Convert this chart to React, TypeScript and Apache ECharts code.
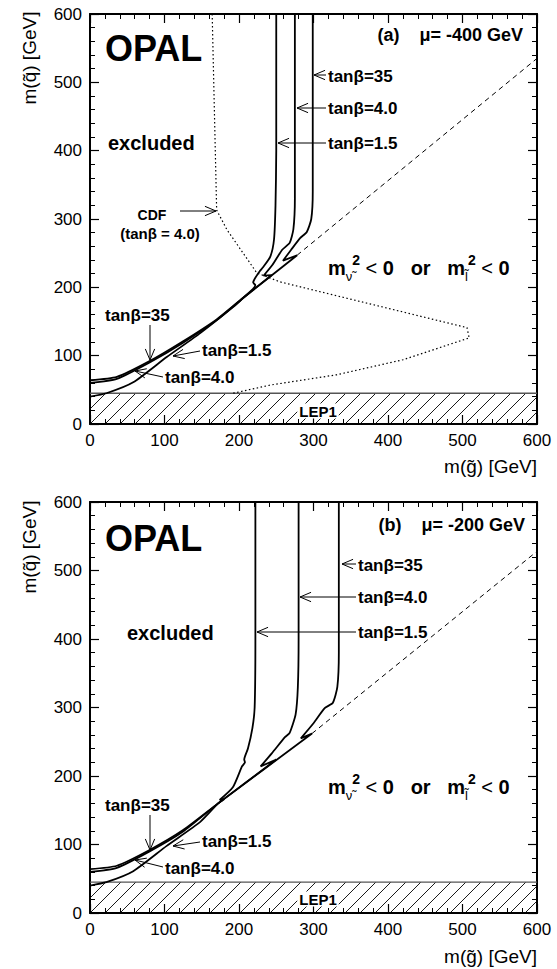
import React, { useEffect, useRef } from "react";
import * as echarts from "echarts";

// ---------- data (GeV) ----------
const axisTicks = [0, 100, 200, 300, 400, 500, 600];
const lep1Limit = 45;

// panel (a): mu = -400 GeV
const a_tb15 = [[0, 40], [22, 45], [58, 61], [103, 98], [148, 133], [192, 171], [205, 184], [222, 203], [219, 207], [228, 224], [232, 229], [242, 245], [247, 270], [249, 320], [250, 400], [250, 600]];
const a_tb40 = [[0, 60], [36, 66], [80, 90], [125, 119], [170, 152], [205, 184], [244, 218], [233, 217], [245, 233], [258, 255], [268, 265], [273, 285], [275, 330], [275, 600]];
const a_tb35 = [[0, 64], [36, 69], [80, 92], [125, 121], [170, 153], [205, 184], [278, 247], [259, 239], [270, 255], [282, 272], [291, 281], [297, 300], [299, 340], [299, 600]];
const a_cdf = [[164, 600], [170, 313], [184, 284], [224, 221], [255, 208], [506, 141], [509, 126], [420, 94], [331, 72], [242, 57], [192, 45]];
const a_diag = [[278, 247], [600, 535]];

// panel (b): mu = -200 GeV
const b_tb15 = [[0, 40], [22, 45], [58, 61], [103, 98], [148, 133], [172, 160], [180, 166], [174, 165], [192, 184], [204, 214], [208, 220], [207, 224], [212, 240], [218, 270], [221, 300], [222, 400], [222, 600]];
const b_tb40 = [[0, 60], [36, 66], [80, 90], [125, 119], [172, 160], [250, 224], [229, 214], [244, 233], [262, 257], [268, 263], [276, 290], [279, 330], [280, 400], [280, 600]];
const b_tb35 = [[0, 64], [36, 69], [80, 92], [125, 121], [172, 160], [298, 262], [283, 255], [300, 277], [315, 299], [326, 307], [332, 330], [334, 380], [334, 600]];
const b_diag = [[298, 262], [600, 528]];

const FONT = '"Liberation Sans", Arial, Helvetica, sans-serif';

function txt(text: string, x: number, y: number, size: number, align = "left", weight = "bold", extra: any = {}) {
  return {
    type: "text",
    x,
    y,
    z: 50,
    style: { text, fill: "#000", fontSize: size, fontWeight: weight, fontFamily: FONT, align, verticalAlign: "middle", ...extra },
  };
}

function arrow(x1: number, y1: number, x2: number, y2: number, head = 12) {
  const a = Math.atan2(y2 - y1, x2 - x1);
  const w = 0.4;
  const p1 = [x2 - head * Math.cos(a - w), y2 - head * Math.sin(a - w)];
  const p2 = [x2 - head * Math.cos(a + w), y2 - head * Math.sin(a + w)];
  return [
    { type: "line", z: 50, shape: { x1, y1, x2, y2 }, style: { stroke: "#000", lineWidth: 1 } },
    { type: "polyline", z: 50, shape: { points: [p1, [x2, y2], p2] }, style: { stroke: "#000", fill: null, lineWidth: 1 } },
  ];
}

function msq(x: number, y: number) {
  return {
    type: "text",
    x,
    y,
    z: 50,
    style: {
      text: "{m|m}{sub|ν\u0303}{sup|2}{op| < }{m|0   or   m}{sub|l\u0303}{sup|2}{op| < }{m|0}",
      fill: "#000",
      align: "left",
      verticalAlign: "middle",
      rich: {
        m: { fontSize: 20, fontWeight: "bold", fontFamily: FONT, verticalAlign: "middle", lineHeight: 30, fill: "#000" },
        op: { fontSize: 20, fontWeight: "normal", fontFamily: FONT, verticalAlign: "middle", lineHeight: 30, fill: "#000" },
        sub: { fontSize: 13, fontWeight: "normal", fontFamily: FONT, verticalAlign: "bottom", lineHeight: 12, fill: "#000" },
        sup: { fontSize: 14, fontWeight: "bold", fontFamily: FONT, verticalAlign: "top", lineHeight: 14, fill: "#000" },
      },
    },
  };
}

function xAxes(gridIndex: number) {
  const common = {
    gridIndex,
    type: "value",
    min: 0,
    max: 600,
    interval: 100,
    splitLine: { show: false },
    axisLine: { show: true, onZero: false, lineStyle: { color: "#000", width: 2 } },
    axisTick: { show: true, inside: true, length: 9, lineStyle: { color: "#000", width: 1.2 } },
    minorTick: { show: true, splitNumber: 5, length: 5, lineStyle: { color: "#000", width: 1 } },
  };
  return [
    { ...common, position: "bottom", axisLabel: { show: true, fontSize: 17, color: "#000", fontFamily: FONT, margin: 8, formatter: (v: number) => (axisTicks.includes(v) ? String(v) : "") } },
    { ...common, position: "top", axisLabel: { show: false } },
  ];
}

function yAxes(gridIndex: number) {
  const common = {
    gridIndex,
    type: "value",
    min: 0,
    max: 600,
    interval: 100,
    splitLine: { show: false },
    axisLine: { show: true, onZero: false, lineStyle: { color: "#000", width: 2 } },
    axisTick: { show: true, inside: true, length: 9, lineStyle: { color: "#000", width: 1.2 } },
    minorTick: { show: true, splitNumber: 5, length: 5, lineStyle: { color: "#000", width: 1 } },
  };
  return [
    { ...common, position: "left", axisLabel: { show: true, fontSize: 17, color: "#000", fontFamily: FONT, margin: 8, formatter: (v: number) => (axisTicks.includes(v) ? String(v) : "") } },
    { ...common, position: "right", axisLabel: { show: false } },
  ];
}

function hatchSeries(xi: number, yi: number) {
  return {
    type: "custom",
    xAxisIndex: xi,
    yAxisIndex: yi,
    z: 1,
    silent: true,
    encode: { x: [0, 1], y: 2 },
    data: [[0, 600, lep1Limit]],
    renderItem: (params: any, api: any) => {
      const tl = api.coord([api.value(0), api.value(2)]);
      const br = api.coord([api.value(1), 0]);
      const left = tl[0], top = tl[1], right = br[0], bottom = br[1];
      const h = bottom - top;
      const children: any[] = [];
      for (let k = -3; left + k * 15 < right; k++) {
        let x1 = left + k * 15, y1 = bottom, x2 = x1 + h, y2 = top;
        if (x1 < left) { y1 = bottom - (left - x1); x1 = left; }
        if (x2 > right) { y2 = top + (x2 - right); x2 = right; }
        if (x2 > x1) children.push({ type: "line", shape: { x1, y1, x2, y2 }, style: { stroke: "#000", lineWidth: 0.9 } });
      }
      children.push({ type: "line", shape: { x1: left, y1: top, x2: right, y2: top }, style: { stroke: "#555", lineWidth: 1.3 } });
      return { type: "group", children };
    },
  };
}

function curve(data: number[][], xi: number, yi: number, extra: any = {}) {
  return {
    type: "line",
    xAxisIndex: xi,
    yAxisIndex: yi,
    data,
    showSymbol: false,
    symbol: "none",
    smooth: 0.2,
    z: 3,
    lineStyle: { color: "#000", width: 1.8 },
    ...extra,
  };
}

export default function App() {
  const ref = useRef<HTMLDivElement>(null);
  useEffect(() => {
    document.body.style.margin = "0";
    const chart = echarts.init(ref.current!, null, { renderer: "svg" });
    const graphics: any[] = [
      // panel (a)
      txt("OPAL", 105, 48, 36),
      txt("excluded", 108, 143, 20),
      txt("(a)    μ= -400 GeV", 523, 35, 18, "right"),
      txt("tanβ=35", 328, 76, 17),
      txt("tanβ=4.0", 328, 108, 17),
      txt("tanβ=1.5", 328, 143, 17),
      ...arrow(326, 75, 314, 75),
      ...arrow(326, 108, 297, 108),
      ...arrow(326, 143, 278, 143),
      txt("CDF", 152, 215, 14, "center"),
      txt("(tanβ = 4.0)", 160, 233, 15, "center"),
      ...arrow(180, 211, 216, 211),
      msq(328, 268),
      txt("tanβ=35", 105, 315, 17),
      txt("tanβ=1.5", 202, 350, 17),
      txt("tanβ=4.0", 165, 377, 17),
      ...arrow(150, 325, 150, 360),
      ...arrow(200, 351, 173, 356),
      ...arrow(163, 377, 135, 371),
      txt("LEP1", 318, 411, 15, "center", "bold", { backgroundColor: "#fff", padding: [0, 2] }),
      txt("m(g\u0303) [GeV]", 537, 466, 19, "right", "normal"),
      { type: "text", x: 29, y: 58, rotation: Math.PI / 2, z: 50, style: { text: "m(q\u0303) [GeV]", fill: "#000", fontSize: 19, fontFamily: FONT, align: "center", verticalAlign: "middle" } },
      // panel (b)
      txt("OPAL", 105, 538, 36),
      txt("excluded", 127, 633, 20),
      txt("(b)    μ= -200 GeV", 525, 525, 18, "right"),
      txt("tanβ=35", 358, 565, 17),
      txt("tanβ=4.0", 358, 597, 17),
      txt("tanβ=1.5", 358, 632, 17),
      ...arrow(356, 564, 342, 564),
      ...arrow(356, 597, 300, 597),
      ...arrow(356, 632, 257, 632),
      msq(328, 787),
      txt("tanβ=35", 105, 805, 17),
      txt("tanβ=1.5", 202, 841, 17),
      txt("tanβ=4.0", 165, 868, 17),
      ...arrow(150, 815, 150, 850),
      ...arrow(200, 842, 173, 846),
      ...arrow(163, 867, 135, 860),
      txt("LEP1", 318, 899, 15, "center", "bold", { backgroundColor: "#fff", padding: [0, 2] }),
      txt("m(g\u0303) [GeV]", 537, 956, 19, "right", "normal"),
      { type: "text", x: 29, y: 547, rotation: Math.PI / 2, z: 50, style: { text: "m(q\u0303) [GeV]", fill: "#000", fontSize: 19, fontFamily: FONT, align: "center", verticalAlign: "middle" } },
    ];
    chart.setOption({
      animation: false,
      backgroundColor: "#fff",
      grid: [
        { left: 90, top: 14, width: 447, height: 410, containLabel: false },
        { left: 90, top: 502, width: 447, height: 411, containLabel: false },
      ],
      xAxis: [...xAxes(0), ...xAxes(1)],
      yAxis: [...yAxes(0), ...yAxes(1)],
      series: [
        hatchSeries(0, 0),
        curve(a_tb15, 0, 0),
        curve(a_tb40, 0, 0),
        curve(a_tb35, 0, 0),
        curve(a_cdf, 0, 0, { smooth: false, lineStyle: { color: "#000", width: 1.2, type: [1.5, 2.5] } }),
        curve(a_diag, 0, 0, { smooth: false, lineStyle: { color: "#000", width: 1, type: [5, 4] } }),
        hatchSeries(2, 2),
        curve(b_tb15, 2, 2),
        curve(b_tb40, 2, 2),
        curve(b_tb35, 2, 2),
        curve(b_diag, 2, 2, { smooth: false, lineStyle: { color: "#000", width: 1, type: [5, 4] } }),
      ],
      graphic: graphics,
    });
    return () => chart.dispose();
  }, []);
  return <div ref={ref} style={{ width: 557, height: 969 }} />;
}
